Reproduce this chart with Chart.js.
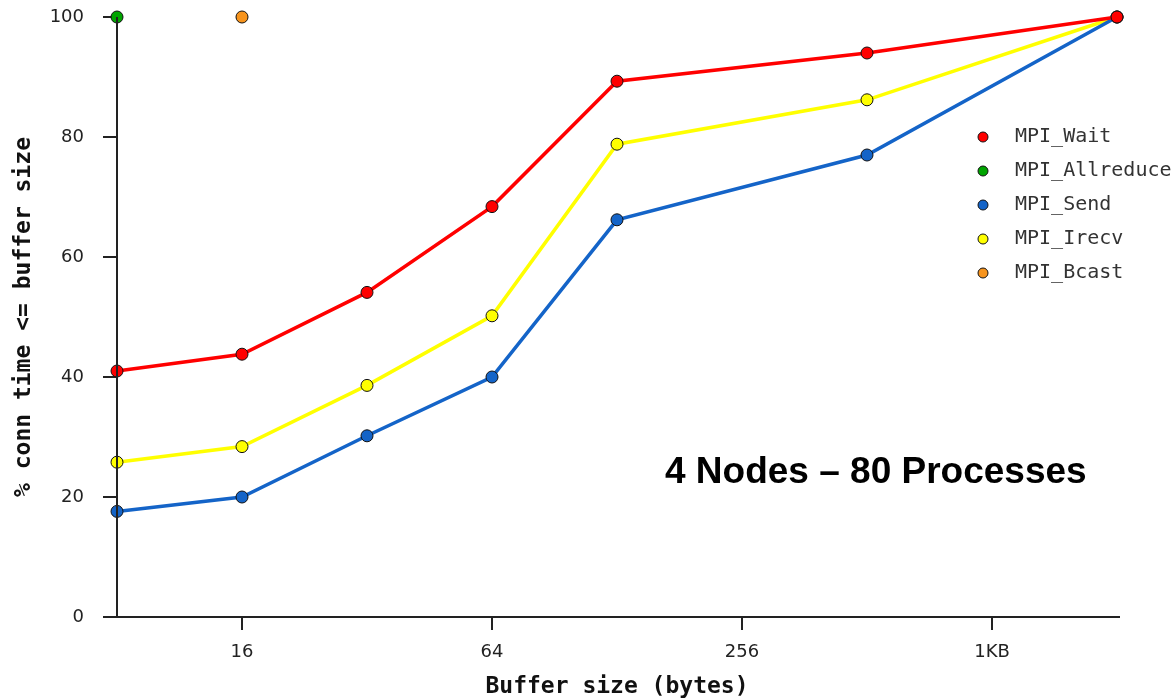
<!DOCTYPE html>
<html>
<head>
<meta charset="utf-8">
<script src="https://cdn.jsdelivr.net/npm/chart.js@4.4.1/dist/chart.umd.min.js"></script>
<style>
html,body{margin:0;padding:0;background:#fff;}
#c{display:block;}
</style>
</head>
<body>
<canvas id="c" width="1175" height="699"></canvas>
<script>
// ---- data ----
const bufferSizes = [8, 16, 32, 64, 128, 512, 2048];
const mpiWait  = [41.0, 43.8, 54.1, 68.4, 89.3, 94.0, 100];
const mpiSend  = [17.6, 20.0, 30.2, 40.0, 66.2, 77.0, 100];
const mpiIrecv = [25.8, 28.4, 38.6, 50.2, 78.8, 86.2, 100];
const allreduceSizes = [8];
const allreduceValues = [100];
const bcastSizes = [16];
const bcastValues = [100];
const xTickValues = [16, 64, 256, 1024];
const xTickLabels = ['16', '64', '256', '1KB'];
const yTickValues = [0, 20, 40, 60, 80, 100];
const seriesNames = ['MPI_Wait', 'MPI_Allreduce', 'MPI_Send', 'MPI_Irecv', 'MPI_Bcast'];
const annotationText = '4 Nodes \u2013 80 Processes';

const pts = (xs, ys) => xs.map((x, i) => ({x: x, y: ys[i]}));

const COLORS = {
  wait: '#ff0000', allreduce: '#00a400', send: '#1464c8', irecv: '#ffff00', bcast: '#f7941d'
};

function ds(label, data, color) {
  return {
    label: label, data: data, borderColor: color, backgroundColor: color,
    borderWidth: 3.5, pointRadius: 6, pointHoverRadius: 6,
    pointBorderColor: '#111', pointBorderWidth: 1, pointBackgroundColor: color,
    clip: false, tension: 0
  };
}

const axisLines = {
  id: 'axisLines',
  afterDraw(chart) {
    const {ctx, chartArea: a} = chart;
    ctx.save();
    ctx.strokeStyle = '#222';
    ctx.lineWidth = 2;
    ctx.beginPath();
    ctx.moveTo(a.left - 14, a.bottom);
    ctx.lineTo(a.right + 3, a.bottom);
    ctx.moveTo(a.left, a.top);
    ctx.lineTo(a.left, a.bottom);
    ctx.stroke();
    ctx.restore();
  }
};

const customLegend = {
  id: 'customLegend',
  afterDraw(chart) {
    const {ctx} = chart;
    const y0 = chart.scales.y.getPixelForValue(80);
    ctx.save();
    ctx.font = '20px "DejaVu Sans Mono"';
    ctx.textBaseline = 'middle';
    chart.data.datasets.forEach((d, i) => {
      const y = y0 + i * 34;
      ctx.beginPath();
      ctx.arc(983, y, 5, 0, Math.PI * 2);
      ctx.fillStyle = d.backgroundColor;
      ctx.fill();
      ctx.strokeStyle = '#111';
      ctx.lineWidth = 1;
      ctx.stroke();
      ctx.fillStyle = '#333';
      ctx.fillText(d.label, 1015, y);
    });
    ctx.restore();
  }
};

const annotation = {
  id: 'annotation',
  afterDraw(chart) {
    const {ctx} = chart;
    ctx.save();
    ctx.font = 'bold 37px "Liberation Sans"';
    ctx.fillStyle = '#000';
    ctx.textBaseline = 'alphabetic';
    ctx.fillText(annotationText, 665, 483);
    ctx.restore();
  }
};

new Chart(document.getElementById('c'), {
  type: 'line',
  data: {
    datasets: [
      ds(seriesNames[0], pts(bufferSizes, mpiWait), COLORS.wait),
      ds(seriesNames[1], pts(allreduceSizes, allreduceValues), COLORS.allreduce),
      ds(seriesNames[2], pts(bufferSizes, mpiSend), COLORS.send),
      ds(seriesNames[3], pts(bufferSizes, mpiIrecv), COLORS.irecv),
      ds(seriesNames[4], pts(bcastSizes, bcastValues), COLORS.bcast)
    ]
  },
  options: {
    responsive: false,
    animation: false,
    devicePixelRatio: 1,
    layout: {padding: {left: 0, top: 17, right: 58, bottom: 0}},
    plugins: {legend: {display: false}, tooltip: {enabled: false}},
    scales: {
      x: {
        type: 'logarithmic',
        min: 8, max: 2048,
        afterBuildTicks(scale) { scale.ticks = xTickValues.map(v => ({value: v})); },
        afterFit(scale) { scale.height = 82; scale.paddingLeft = 0; scale.paddingRight = 0; },
        ticks: {
          autoSkip: false, maxRotation: 0, minRotation: 0, padding: 12,
          color: '#222', font: {family: '"DejaVu Sans"', size: 18},
          callback: (v, i) => xTickLabels[i]
        },
        grid: {display: true, drawOnChartArea: false, drawTicks: true, tickLength: 13, color: '#222', lineWidth: 2},
        border: {display: false},
        title: {display: true, text: 'Buffer size (bytes)', color: '#111',
          font: {family: '"DejaVu Sans Mono"', size: 23, weight: 'bold', lineHeight: 1},
          padding: {top: 0, bottom: 0}}
      },
      y: {
        type: 'linear',
        min: 0, max: 100,
        afterBuildTicks(scale) { scale.ticks = yTickValues.map(v => ({value: v})); },
        afterFit(scale) { scale.width = 117; scale.paddingTop = 0; scale.paddingBottom = 0; },
        ticks: {
          padding: 19, color: '#222', font: {family: '"DejaVu Sans"', size: 18}
        },
        grid: {display: true, drawOnChartArea: false, drawTicks: true, tickLength: 14, color: '#222', lineWidth: 2},
        border: {display: false},
        title: {display: true, text: '% conn time <= buffer size', color: '#111',
          font: {family: '"DejaVu Sans Mono"', size: 23, weight: 'bold', lineHeight: 1},
          padding: {top: 13, bottom: 0}}
      }
    }
  },
  plugins: [axisLines, customLegend, annotation]
});
</script>
</body>
</html>
